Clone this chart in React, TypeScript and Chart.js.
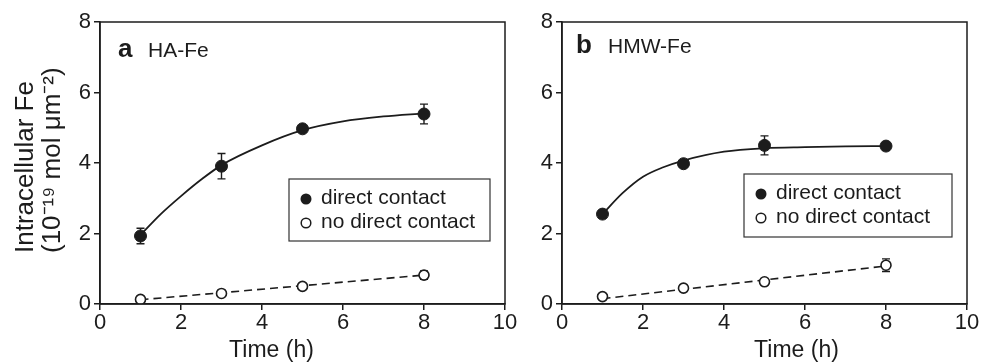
import React, { useEffect, useRef } from "react";
import { Chart, registerables } from "chart.js";

Chart.register(...registerables);

// ---------------- data ----------------
const hours = [1, 3, 5, 8];

const haDirect = [1.93, 3.91, 4.97, 5.39];
const haDirectErr = [0.22, 0.36, 0.06, 0.28];
const haNoDirect = [0.13, 0.3, 0.5, 0.82];
const haNoDirectErr = [0.03, 0.03, 0.04, 0.12];

const hmwDirect = [2.55, 3.98, 4.5, 4.48];
const hmwDirectErr = [0.06, 0.06, 0.27, 0.06];
const hmwNoDirect = [0.21, 0.45, 0.63, 1.1];
const hmwNoDirectErr = [0.03, 0.03, 0.04, 0.18];

// fitted curves
const fitHours = [1, 1.5, 2, 2.5, 3, 4, 5, 6, 7, 8];
const haDirectFit = [1.96, 2.55, 3.06, 3.53, 3.94, 4.5, 4.93, 5.18, 5.32, 5.41];
const hmwDirectFit = [2.55, 3.15, 3.61, 3.88, 4.07, 4.32, 4.42, 4.45, 4.47, 4.48];

const linHours = [1, 8];
const haNoDirectFit = [0.12, 0.82];
const hmwNoDirectFit = [0.15, 1.08];

const xTicks = [0, 2, 4, 6, 8, 10];
const yTicks = [0, 2, 4, 6, 8];

const seriesLabels = ["direct contact", "no direct contact"];
const xTitle = "Time (h)";
const yTitleLines = ["Intracellular Fe", "(10\u207B\u00B9\u2079 mol \u03BCm\u207B\u00B2)"];

// ---------------- style ----------------
const HEIGHT = 364;
const FONT = "'Liberation Sans', Arial, Helvetica, sans-serif";
const INK = "#1c1c1c";

type PanelSpec = {
  letter: string;
  name: string;
  direct: number[];
  directErr: number[];
  noDirect: number[];
  noDirectErr: number[];
  directFit: number[];
  noDirectFit: number[];
  canvasLeft: number;
  canvasWidth: number;
  areaLeft: number;
  areaRight: number;
  showYTitle: boolean;
  legend: { dx: number; dy: number; w: number; h: number };
  label: { dx: number; nameDx: number; baseDy: number };
  xTitleShift: number;
};

const panels: PanelSpec[] = [
  {
    letter: "a",
    name: "HA-Fe",
    direct: haDirect,
    directErr: haDirectErr,
    noDirect: haNoDirect,
    noDirectErr: haNoDirectErr,
    directFit: haDirectFit,
    noDirectFit: haNoDirectFit,
    canvasLeft: 0,
    canvasWidth: 525,
    areaLeft: 100,
    areaRight: 505,
    showYTitle: true,
    legend: { dx: 189, dy: 157, w: 201, h: 62 },
    label: { dx: 18, nameDx: 48, baseDy: 35 },
    xTitleShift: -31,
  },
  {
    letter: "b",
    name: "HMW-Fe",
    direct: hmwDirect,
    directErr: hmwDirectErr,
    noDirect: hmwNoDirect,
    noDirectErr: hmwNoDirectErr,
    directFit: hmwDirectFit,
    noDirectFit: hmwNoDirectFit,
    canvasLeft: 525,
    canvasWidth: 456,
    areaLeft: 37,
    areaRight: 442,
    showYTitle: false,
    legend: { dx: 182, dy: 152, w: 208, h: 63 },
    label: { dx: 14, nameDx: 46, baseDy: 31 },
    xTitleShift: 32,
  },
];

function pts(xs: number[], ys: number[]) {
  return xs.map((x, i) => ({ x, y: ys[i] }));
}

function makeConfig(p: PanelSpec): any {
  const decorPlugin = {
    id: "decor" + p.letter,
    beforeDatasetsDraw(chart: any) {
      const { ctx, chartArea: a, scales } = chart;
      const xs = scales.x;
      const ys = scales.y;
      // error bars (behind markers)
      ctx.save();
      ctx.strokeStyle = INK;
      ctx.lineWidth = 1.4;
      chart.data.datasets.forEach((ds: any) => {
        if (!ds.errors) return;
        ds.data.forEach((pt: any, i: number) => {
          const e = ds.errors[i];
          const px = xs.getPixelForValue(pt.x);
          const top = ys.getPixelForValue(pt.y + e);
          const bot = ys.getPixelForValue(pt.y - e);
          ctx.beginPath();
          ctx.moveTo(px, top);
          ctx.lineTo(px, bot);
          ctx.moveTo(px - 4, top);
          ctx.lineTo(px + 4, top);
          ctx.moveTo(px - 4, bot);
          ctx.lineTo(px + 4, bot);
          ctx.stroke();
        });
      });
      ctx.restore();
    },
    afterDraw(chart: any) {
      const { ctx, chartArea: a } = chart;
      ctx.save();
      // frame
      ctx.strokeStyle = INK;
      ctx.lineWidth = 1.5;
      ctx.strokeRect(a.left, a.top, a.right - a.left, a.bottom - a.top);

      // panel label
      ctx.fillStyle = INK;
      ctx.textBaseline = "alphabetic";
      ctx.textAlign = "left";
      ctx.font = `bold 26px ${FONT}`;
      ctx.fillText(p.letter, a.left + p.label.dx, a.top + p.label.baseDy);
      ctx.font = `21px ${FONT}`;
      ctx.fillText(p.name, a.left + p.label.nameDx, a.top + p.label.baseDy);

      // legend box
      const L = p.legend;
      const bx = a.left + L.dx;
      const by = a.top + L.dy;
      ctx.fillStyle = "#fff";
      ctx.fillRect(bx, by, L.w, L.h);
      ctx.strokeStyle = "#333";
      ctx.lineWidth = 1.2;
      ctx.strokeRect(bx, by, L.w, L.h);
      const rows = [by + 19, by + 43];
      // filled marker
      ctx.fillStyle = INK;
      ctx.beginPath();
      ctx.arc(bx + 17, rows[0] + 1, 5.5, 0, Math.PI * 2);
      ctx.fill();
      // open marker
      ctx.fillStyle = "#fff";
      ctx.strokeStyle = INK;
      ctx.lineWidth = 1.5;
      ctx.beginPath();
      ctx.arc(bx + 17, rows[1] + 1, 4.8, 0, Math.PI * 2);
      ctx.fill();
      ctx.stroke();
      ctx.fillStyle = INK;
      ctx.font = `21px ${FONT}`;
      ctx.textBaseline = "middle";
      ctx.fillText(seriesLabels[0], bx + 32, rows[0]);
      ctx.fillText(seriesLabels[1], bx + 32, rows[1]);

      // x title
      ctx.font = `23px ${FONT}`;
      ctx.textAlign = "center";
      ctx.textBaseline = "alphabetic";
      ctx.fillText(xTitle, (a.left + a.right) / 2 + p.xTitleShift, 357);

      // y title
      if (p.showYTitle) {
        ctx.font = `26px ${FONT}`;
        ctx.textAlign = "left";
        const startY = 253;
        const baselines = [33, 60];
        yTitleLines.forEach((line, i) => {
          ctx.save();
          ctx.translate(baselines[i], startY);
          ctx.rotate(-Math.PI / 2);
          ctx.fillText(line, 0, 0);
          ctx.restore();
        });
      }
      ctx.restore();
    },
  };

  const tickFont = { family: FONT, size: 22, lineHeight: 1.2 };

  return {
    type: "scatter",
    data: {
      datasets: [
        {
          label: seriesLabels[0],
          data: pts(hours, p.direct),
          errors: p.directErr,
          showLine: false,
          pointRadius: 6,
          pointBackgroundColor: INK,
          pointBorderColor: INK,
          pointBorderWidth: 1,
          order: 0,
        },
        {
          label: seriesLabels[1],
          data: pts(hours, p.noDirect),
          errors: p.noDirectErr,
          showLine: false,
          pointRadius: 5,
          pointBackgroundColor: "#ffffff",
          pointBorderColor: INK,
          pointBorderWidth: 1.6,
          order: 1,
        },
        {
          label: "fit direct",
          data: pts(fitHours, p.directFit),
          showLine: true,
          fill: false,
          borderColor: INK,
          borderWidth: 1.8,
          pointRadius: 0,
          cubicInterpolationMode: "monotone",
          order: 3,
        },
        {
          label: "fit no direct",
          data: pts(linHours, p.noDirectFit),
          showLine: true,
          fill: false,
          borderColor: INK,
          borderWidth: 1.6,
          borderDash: [8, 5],
          pointRadius: 0,
          order: 3,
        },
      ],
    },
    options: {
      animation: false,
      responsive: false,
      devicePixelRatio: 1,
      layout: {
        padding: { left: 0, top: 22, right: p.canvasWidth - p.areaRight, bottom: 0 },
      },
      plugins: {
        legend: { display: false },
        tooltip: { enabled: false },
        title: { display: false },
      },
      scales: {
        x: {
          type: "linear",
          min: xTicks[0],
          max: xTicks[xTicks.length - 1],
          afterBuildTicks: (s: any) => {
            s.ticks = xTicks.map((v) => ({ value: v }));
          },
          afterFit: (s: any) => {
            s.height = HEIGHT - 304;
          },
          ticks: { font: tickFont, color: INK, padding: 0, maxRotation: 0, autoSkip: false },
          grid: { drawOnChartArea: false, drawTicks: true, tickLength: 6, color: INK, lineWidth: 1.5 },
          border: { display: true, color: INK, width: 1.5 },
        },
        y: {
          type: "linear",
          min: yTicks[0],
          max: yTicks[yTicks.length - 1],
          afterBuildTicks: (s: any) => {
            s.ticks = yTicks.map((v) => ({ value: v }));
          },
          afterFit: (s: any) => {
            s.width = p.areaLeft;
          },
          ticks: { font: tickFont, color: INK, padding: 3, autoSkip: false },
          grid: { drawOnChartArea: false, drawTicks: true, tickLength: 6, color: INK, lineWidth: 1.5 },
          border: { display: true, color: INK, width: 1.5 },
        },
      },
    },
    plugins: [decorPlugin],
  };
}

function Panel({ spec }: { spec: PanelSpec }) {
  const ref = useRef<HTMLCanvasElement>(null);
  useEffect(() => {
    if (!ref.current) return;
    const chart = new Chart(ref.current, makeConfig(spec));
    return () => chart.destroy();
  }, [spec]);
  return (
    <canvas
      ref={ref}
      width={spec.canvasWidth}
      height={HEIGHT}
      style={{ position: "absolute", left: spec.canvasLeft, top: 0, width: spec.canvasWidth, height: HEIGHT }}
    />
  );
}

export default function App() {
  return (
    <div style={{ position: "absolute", left: 0, top: 0, width: 981, height: HEIGHT, background: "#fff" }}>
      {panels.map((p) => (
        <Panel key={p.letter} spec={p} />
      ))}
    </div>
  );
}
